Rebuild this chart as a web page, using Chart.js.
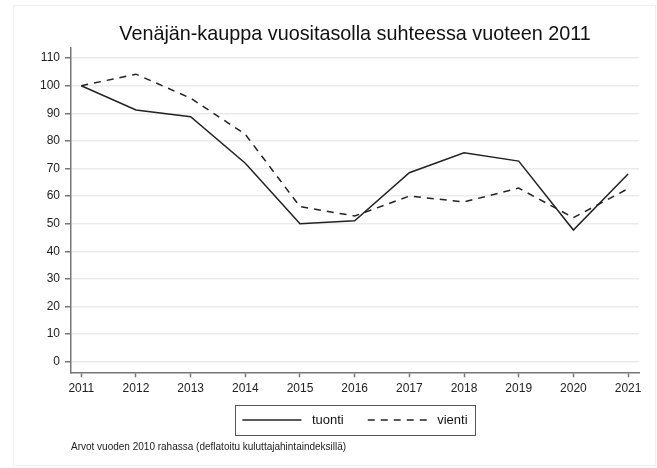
<!DOCTYPE html>
<html>
<head>
<meta charset="utf-8">
<script src="https://cdn.jsdelivr.net/npm/chart.js@4"></script>
<style>
  html, body { margin: 0; padding: 0; background: #fff; }
</style>
</head>
<body>
<canvas id="chart" width="657" height="468"></canvas>
<script>
// Venäjän-kauppa, indeksi 2011 = 100
const years = [2011, 2012, 2013, 2014, 2015, 2016, 2017, 2018, 2019, 2020, 2021];
const tuonti = [100, 91.2, 88.8, 71.9, 50.0, 51.1, 68.5, 75.7, 72.7, 47.7, 68.0];
const vienti = [100, 104.2, 95.5, 82.4, 56.2, 52.8, 60.0, 57.9, 62.9, 52.2, 62.7];
const yTicks = [0, 10, 20, 30, 40, 50, 60, 70, 80, 90, 100, 110];

const FONT = "'Liberation Sans', Arial, sans-serif";
const axisGray = '#777';

// faint page frame + boxed legend drawn under the x axis
const framePlugin = {
  id: 'frame',
  beforeDraw(chart) {
    const c = chart.ctx;
    c.save();
    c.strokeStyle = '#f0f0f0';
    c.lineWidth = 1;
    c.strokeRect(13.5, 5.5, 642, 460);
    c.restore();
  },
  afterDraw(chart) {
    const c = chart.ctx;
    const area = chart.chartArea;
    const sampleW = 59, gap = 10.5, between = 24, pad = 7.5;
    const midY = 420;
    c.save();
    c.font = '13px ' + FONT;
    const items = chart.data.datasets.map(ds => ({ ds, textW: c.measureText(ds.label).width }));
    const total = items.reduce((s, it) => s + sampleW + gap + it.textW, 0) + between * (items.length - 1);
    let x = (area.left + area.right) / 2 - total / 2;

    c.strokeStyle = '#555';
    c.lineWidth = 1;
    c.strokeRect(Math.round(x - pad) + 0.5, midY - 15 + 0.5, Math.round(total + 2 * pad), 30);

    items.forEach(it => {
      c.beginPath();
      c.strokeStyle = it.ds.borderColor;
      c.lineWidth = it.ds.borderWidth;
      c.setLineDash(it.ds.borderDash || []);
      c.moveTo(x, midY);
      c.lineTo(x + sampleW, midY);
      c.stroke();
      c.setLineDash([]);
      x += sampleW + gap;
      c.fillStyle = '#111';
      c.textBaseline = 'middle';
      c.textAlign = 'left';
      c.fillText(it.ds.label, x, midY);
      x += it.textW + between;
    });
    c.restore();
  }
};

const ctx = document.getElementById('chart').getContext('2d');
const tradeChart = new Chart(ctx, {
  type: 'line',
  data: {
    datasets: [{
      label: 'tuonti',
      data: years.map((y, i) => ({ x: y, y: tuonti[i] })),
      borderColor: '#222',
      borderWidth: 1.5,
      pointRadius: 0,
      tension: 0,
      fill: false
    }, {
      label: 'vienti',
      data: years.map((y, i) => ({ x: y, y: vienti[i] })),
      borderColor: '#222',
      borderWidth: 1.5,
      borderDash: [7, 6],
      pointRadius: 0,
      tension: 0,
      fill: false
    }]
  },
  options: {
    responsive: false,
    animation: false,
    layout: { padding: { left: 0, right: 18, top: 0, bottom: 14.7 } },
    plugins: {
      title: {
        display: true,
        fullSize: false,
        text: 'Venäjän-kauppa vuositasolla suhteessa vuoteen 2011',
        color: '#111',
        font: { family: FONT, size: 19.8, weight: 'normal', lineHeight: 1.2 },
        padding: { top: 22.7, bottom: 1.5 }
      },
      subtitle: {
        display: true,
        text: 'Arvot vuoden 2010 rahassa (deflatoitu kuluttajahintaindeksillä)',
        position: 'bottom',
        align: 'start',
        fullSize: false,
        color: '#222',
        font: { family: FONT, size: 10, weight: 'normal', lineHeight: 1.2 },
        padding: { top: 46, bottom: 0 }
      },
      legend: { display: false },
      tooltip: { enabled: false }
    },
    scales: {
      x: {
        type: 'linear',
        min: 2010.812,
        max: 2021.2,
        afterBuildTicks: scale => { scale.ticks = years.map(v => ({ value: v })); },
        afterFit: scale => { scale.height = 23; },
        grid: { drawOnChartArea: false, tickLength: 5, tickColor: axisGray, tickWidth: 1.5 },
        border: { color: axisGray, width: 1.5 },
        ticks: {
          color: '#222',
          padding: 4,
          maxRotation: 0,
          font: { family: FONT, size: 12 },
          callback: v => String(v)
        }
      },
      y: {
        min: -3.84,
        max: 113.7,
        afterBuildTicks: scale => { scale.ticks = yTicks.map(v => ({ value: v })); },
        afterFit: scale => { scale.width = 71; },
        grid: { color: '#ebebeb', lineWidth: 1.5, tickLength: 6, tickColor: axisGray, tickWidth: 1.5 },
        border: { color: axisGray, width: 1.5 },
        ticks: {
          color: '#222',
          padding: 5,
          font: { family: FONT, size: 12 },
          callback: v => String(v)
        }
      }
    }
  },
  plugins: [framePlugin]
});
</script>
</body>
</html>
